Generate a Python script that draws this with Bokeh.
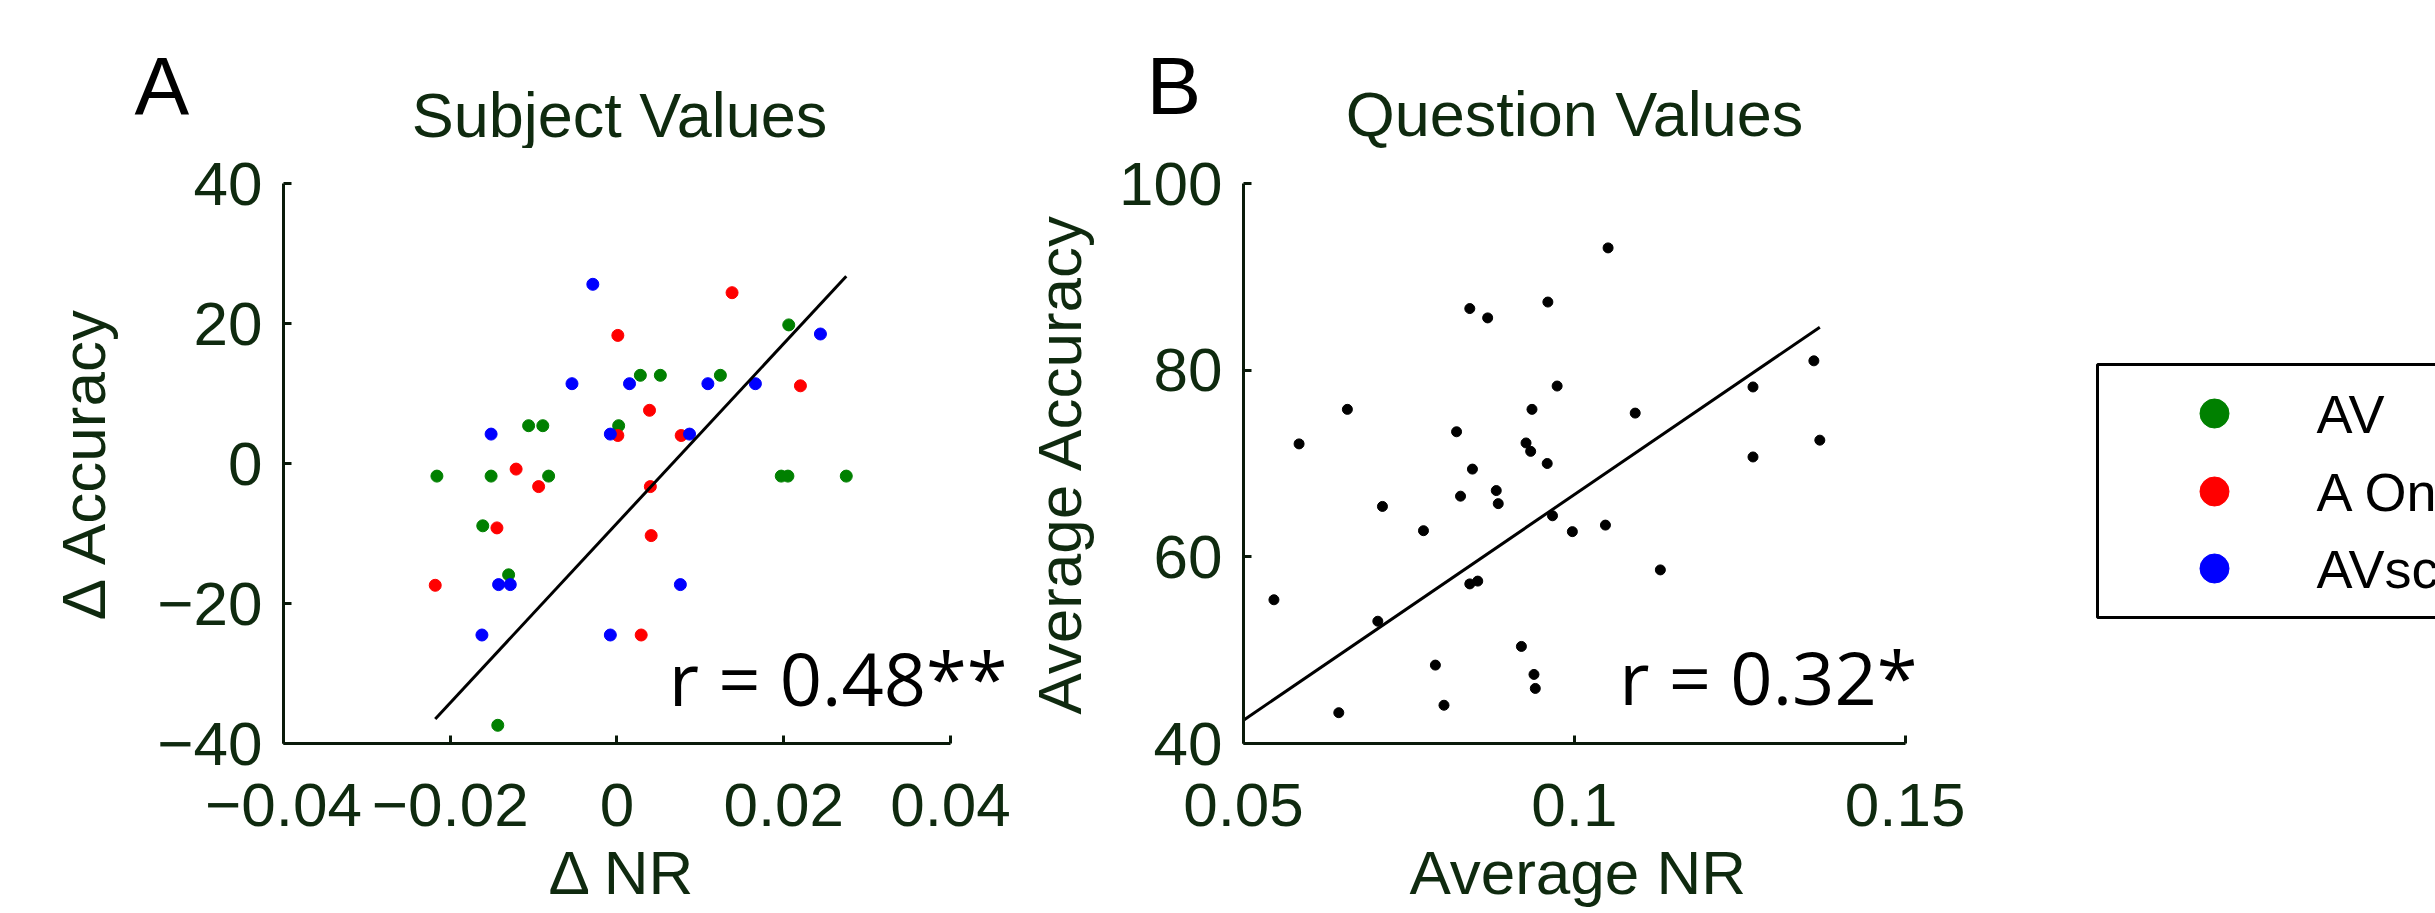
from bokeh.plotting import figure
from bokeh.layouts import row, column
from bokeh.models import Range1d, Label, FixedTicker, Title
from bokeh.core.properties import value
from bokeh.embed import file_html
from bokeh.resources import INLINE

# ---------------- data: panel A (Subject Values) ----------------
av_x = [0.0206, 0.0028, 0.0052, 0.0124, -0.0106, -0.0089, 0.0002, -0.0216,
        -0.0151, -0.0082, 0.0197, 0.0205, 0.0275, -0.0161, -0.0130, -0.0143]
av_y = [19.8, 12.6, 12.6, 12.6, 5.4, 5.4, 5.4, -1.8,
        -1.8, -1.8, -1.8, -1.8, -1.8, -8.9, -15.9, -37.4]

aonly_x = [0.0138, 0.0001, 0.0220, 0.0039, 0.0001, 0.0077, -0.0121, -0.0094,
           0.0040, -0.0144, 0.0041, -0.0218, 0.0029]
aonly_y = [24.4, 18.3, 11.1, 7.6, 4.0, 4.0, -0.8, -3.3,
           -3.3, -9.2, -10.3, -17.4, -24.5]

avsc_x = [-0.0029, 0.0244, -0.0054, 0.0015, 0.0109, 0.0166, -0.0151, -0.0008,
          0.0087, -0.0142, -0.0128, 0.0076, -0.0162, -0.0008]
avsc_y = [25.6, 18.5, 11.4, 11.4, 11.4, 11.4, 4.2, 4.2,
          4.2, -17.3, -17.3, -17.3, -24.5, -24.5]

fitA_x = [-0.0218, 0.0275]
fitA_y = [-36.5, 26.75]

# ---------------- data: panel B (Question Values) ----------------
q_x = [0.1051, 0.0960, 0.0842, 0.0869, 0.1362, 0.0974, 0.1270, 0.0657, 0.0936,
       0.1092, 0.0584, 0.1371, 0.0822, 0.0927, 0.0934, 0.1270, 0.0846, 0.0959,
       0.0882, 0.0828, 0.0885, 0.0710, 0.0967, 0.0772, 0.0997, 0.1047, 0.1130,
       0.0842, 0.0854, 0.0546, 0.0703, 0.0920, 0.0790, 0.0939, 0.0941, 0.0803,
       0.0644]
q_y = [93.1, 87.3, 86.6, 85.6, 81.0, 78.3, 78.2, 75.8, 75.8,
       75.4, 72.1, 72.5, 73.4, 72.2, 71.3, 70.7, 69.4, 70.0,
       67.1, 66.5, 65.7, 65.4, 64.4, 62.8, 62.7, 63.4, 58.6,
       57.1, 57.4, 55.4, 53.1, 50.4, 48.4, 47.4, 45.9, 44.1,
       43.3]

fitB_x = [0.05, 0.1371]
fitB_y = [42.5, 84.6]

# ---------------- ticks / labels ----------------
a_xticks = [-0.04, -0.02, 0, 0.02, 0.04]
a_xlabels = ["\u22120.04", "\u22120.02", "0", "0.02", "0.04"]
a_yticks = [-40, -20, 0, 20, 40]
a_ylabels = ["\u221240", "\u221220", "0", "20", "40"]
b_xticks = [0.05, 0.1, 0.15]
b_xlabels = ["0.05", "0.1", "0.15"]
b_yticks = [40, 60, 80, 100]
b_ylabels = ["40", "60", "80", "100"]

panel_letters = ["A", "B"]
panel_titles = ["Subject Values", "Question Values"]
r_texts = ["r = 0.48**", "r = 0.32*"]

legend_labels = ["AV", "A Only", "AVscrambled"]
legend_colors = ["#008000", "#ff0000", "#0000ff"]

TXT = "#0f2a0f"
AXC = "#0a1a0a"
FONT = "Liberation Sans"
FS = "62px"

# page layout in pixels: strip on top (y 0..148), plot row below (y 148..913)
TOP_H = 148
ROW_H = 913 - TOP_H
BT, BB = 35, 169     # frame spans page y 183..744


def no_align(p):
    try:
        p.frame_align = False
    except Exception:
        pass


def style(p, xticks, xlabels, xbounds, yticks, ylabels, ylab, yl_stand):
    no_align(p)
    p.grid.visible = False
    p.outline_line_color = None
    p.background_fill_color = "white"
    p.border_fill_color = "white"
    p.xaxis.ticker = FixedTicker(ticks=xticks)
    p.xaxis.major_label_overrides = dict(zip(xticks, xlabels))
    p.xaxis.bounds = xbounds
    p.yaxis.ticker = FixedTicker(ticks=yticks)
    p.yaxis.major_label_overrides = dict(zip(yticks, ylabels))
    p.yaxis.axis_label = ylab
    for ax in (p.xaxis, p.yaxis):
        ax.axis_line_color = AXC
        ax.axis_line_width = 3
        ax.major_tick_line_color = AXC
        ax.major_tick_line_width = 3
        ax.major_tick_in = 8
        ax.major_tick_out = 0
        ax.minor_tick_line_color = None
        ax.major_label_text_font = FONT
        ax.major_label_text_font_size = FS
        ax.major_label_text_color = TXT
        ax.axis_label_text_font = FONT
        ax.axis_label_text_font_size = FS
        ax.axis_label_text_font_style = "normal"
        ax.axis_label_text_color = TXT
    p.xaxis.major_label_standoff = 40
    p.yaxis.major_label_standoff = 21
    p.yaxis.axis_label_standoff = yl_stand


def xcaption(p, text, offset):
    p.add_layout(Title(text=text, align="left", offset=offset, vertical_align="bottom",
                       standoff=14, text_font=FONT, text_font_size=FS,
                       text_font_style="normal", text_color=TXT), "below")


def bare(width, height, xr, yr, bt=0, bb=0):
    p = figure(width=width, height=height, x_range=Range1d(*xr), y_range=Range1d(*yr),
               output_backend="svg", toolbar_location=None, tools="",
               x_axis_type=None, y_axis_type=None,
               min_border_left=0, min_border_right=0, min_border_top=bt, min_border_bottom=bb)
    no_align(p)
    p.grid.visible = False
    p.outline_line_color = None
    return p


# ---------------- top strip: panel letters and titles ----------------
pT = bare(2435, TOP_H, (0, 2435), (TOP_H, 0))
pT.text([134, 1146], [85, 85], text=panel_letters, text_font=value(FONT),
        text_font_size="82px", text_color="black", text_baseline="middle")
pT.text([619, 1574], [114, 113], text=panel_titles, text_font=value(FONT),
        text_font_size="63px", text_color=TXT, text_align="center", text_baseline="middle")

# ---------------- panel A ----------------
pA = figure(width=1022, height=ROW_H, x_range=Range1d(-0.04, 0.048636), y_range=Range1d(-40, 40),
            output_backend="svg", toolbar_location=None, tools="",
            min_border_left=283, min_border_right=0, min_border_top=BT, min_border_bottom=BB)
style(pA, a_xticks, a_xlabels, (-0.04, 0.04), a_yticks, a_ylabels, "\u0394 Accuracy", 36)
xcaption(pA, "\u0394 NR", 265)
pA.scatter(av_x, av_y, size=12, color=legend_colors[0])
pA.scatter(aonly_x, aonly_y, size=12, color=legend_colors[1])
pA.scatter(avsc_x, avsc_y, size=12, color=legend_colors[2])
pA.line(fitA_x, fitA_y, line_color="black", line_width=3)
pA.add_layout(Label(x=0.0062, y=-30.5, text=r_texts[0], text_font="Open Sans",
                    text_font_size="74px", text_color="black", text_baseline="alphabetic"))

# ---------------- panel B ----------------
pB = figure(width=1018, height=ROW_H, x_range=Range1d(0.05, 0.170451), y_range=Range1d(40, 100),
            output_backend="svg", toolbar_location=None, tools="",
            min_border_left=217, min_border_right=0, min_border_top=BT, min_border_bottom=BB)
style(pB, b_xticks, b_xlabels, (0.05, 0.15), b_yticks, b_ylabels, "Average Accuracy", 22)
xcaption(pB, "Average NR", 166)
pB.scatter(q_x, q_y, size=10, color="black")
pB.line(fitB_x, fitB_y, line_color="black", line_width=3)
pB.add_layout(Label(x=0.1068, y=47.2, text=r_texts[1], text_font="Open Sans",
                    text_font_size="74px", text_color="black", text_baseline="alphabetic"))

# ---------------- legend panel (cut at the right edge like the reference) ----------------
pL = bare(395, ROW_H, (2040, 2435), (744, 183), bt=BT, bb=BB)
pL.quad(left=2097, right=2480, top=364, bottom=617, fill_color="white",
        line_color="black", line_width=3)
pL.scatter([2214, 2214, 2214], [413, 491, 568], size=29, color=legend_colors)
pL.text([2316, 2316, 2316], [413, 491, 568], text=legend_labels, text_font=value(FONT),
        text_font_size="54px", text_baseline="middle", text_color="black")

layout = column(pT, row(pA, pB, pL, spacing=0), spacing=0)
open("out.html", "w").write(file_html(layout, INLINE))
